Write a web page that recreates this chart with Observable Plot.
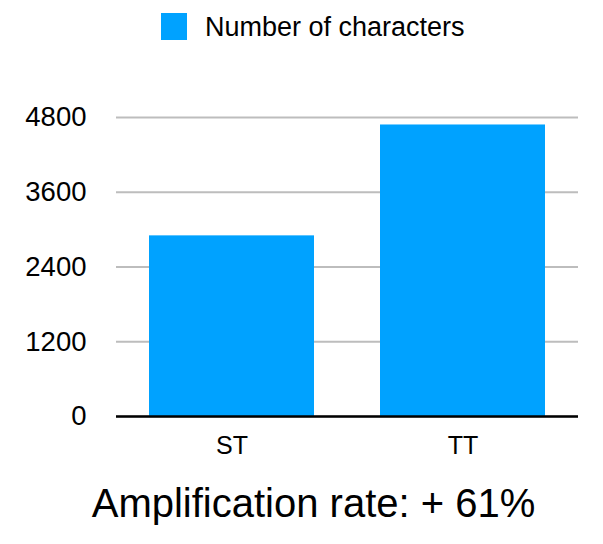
<!DOCTYPE html>
<html>
<head>
<meta charset="utf-8">
<script src="https://cdn.jsdelivr.net/npm/d3@7"></script>
<script src="https://cdn.jsdelivr.net/npm/@observablehq/plot@0.6"></script>
<style>
  html, body { margin: 0; padding: 0; background: #fff; }
  body { width: 603px; height: 544px; position: relative; overflow: hidden;
         font-family: "Liberation Sans", Arial, Helvetica, sans-serif; color: #000; }
  #legend { position: absolute; left: 0; top: 0; width: 603px; height: 100px; }
  #legend .sw { position: absolute; left: 161px; top: 13px; width: 26px; height: 27px; background: #00a2ff; }
  #legend .lb { position: absolute; left: 205px; top: 12px; font-size: 27px; line-height: 31px; white-space: nowrap; }
  #chart { position: absolute; left: 0; top: 100px; }
  #caption { position: absolute; left: 0; top: 479px; width: 627px; text-align: center; font-size: 40px; line-height: 48px; white-space: nowrap; }
</style>
</head>
<body>
<div id="legend"><div class="sw"></div><div class="lb"></div></div>
<div id="chart"></div>
<div id="caption"></div>
<script>
const categories = ["ST", "TT"];
const values = [2900, 4680];
const yTicks = [0, 1200, 2400, 3600, 4800];
const seriesName = "Number of characters";
const captionText = "Amplification rate: + 61%";

const data = categories.map((c, i) => ({cat: c, value: values[i]}));

document.querySelector("#legend .lb").textContent = seriesName;
document.querySelector("#caption").textContent = captionText;

const chart = Plot.plot({
  width: 603,
  height: 400,
  marginTop: 17,
  marginBottom: 84,
  marginLeft: 116,
  marginRight: 25,
  style: {fontFamily: '"Liberation Sans", Arial, Helvetica, sans-serif', color: "#000", background: "#fff", overflow: "visible"},
  x: {domain: categories, paddingInner: 0.287, paddingOuter: 0.143},
  y: {domain: [0, 4800]},
  marks: [
    Plot.gridY(yTicks, {stroke: "#bdbdbd", strokeOpacity: 1, strokeWidth: 2}),
    Plot.barY(data, {x: "cat", y: "value", fill: "#00a2ff"}),
    Plot.ruleY([0], {stroke: "#000", strokeWidth: 2.5}),
    Plot.axisY(yTicks, {tickSize: 0, tickPadding: 30, fontSize: 27.5, label: null, tickFormat: d => String(d)}),
    Plot.axisX({tickSize: 0, tickPadding: 20, fontSize: 25, label: null})
  ]
});
document.getElementById("chart").appendChild(chart);
</script>
</body>
</html>
